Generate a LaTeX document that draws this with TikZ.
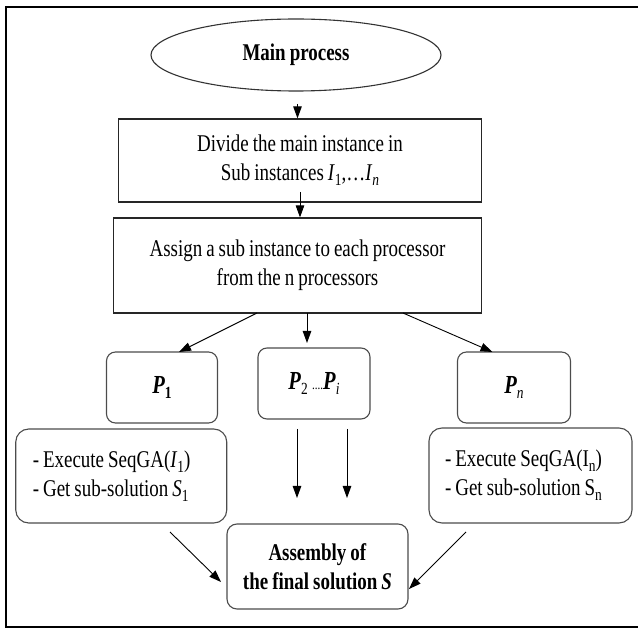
\documentclass[tikz,border=0pt]{standalone}
\usepackage{fontspec}
\setmainfont{Liberation Serif}[FakeStretch=0.79, WordSpace=0.85]
\usetikzlibrary{shapes.geometric,arrows.meta}

% lowered index in the style of an equation subscript
\newcommand{\lowidx}[1]{\raisebox{-0.22em}{\fontsize{17}{17}\selectfont #1}}

\tikzset{
  txt/.style={font=\fontsize{24}{29}\selectfont, align=center, inner sep=0pt},
  plainbox/.style={txt, draw=black!85, line width=1.2pt, rectangle},
  roundbox/.style={txt, draw=black!70, line width=1.1pt, rectangle, rounded corners=9pt},
  execbox/.style={roundbox, rounded corners=13pt, align=flush left, inner xsep=17pt},
  plabel/.style={font=\fontsize{26}{29}\selectfont},
  arr/.style={draw=black, line width=0.9pt, -{Triangle[length=12pt,width=8.5pt]}},
  frameline/.style={draw=black, line width=2pt}
}

\begin{document}
\begin{tikzpicture}[x=1pt,y=-1pt]
  \useasboundingbox (0,0) rectangle (638,628);

  % outer frame, open on the right
  \draw[frameline] (640,7) -- (5.5,7) -- (5.5,627) -- (640,627);

  % top of the flow
  \node[txt, ellipse, draw=black!80, line width=1.1pt,
        minimum width=290pt, minimum height=72pt] (main) at (296,55)
        {\textbf{Main process}};

  \node[plainbox, minimum width=363pt, minimum height=83pt] (divide) at (300,160.5)
        {Divide the main instance in\\
         Sub instances \textit{I}\lowidx{1},…\textit{I}\lowidx{\textit{n}}};

  \node[plainbox, minimum width=368pt, minimum height=95pt] (assign) at (297.5,265.5)
        {Assign a sub instance to each processor\\from the n processors};

  % processors
  \node[roundbox, plabel, minimum width=111pt, minimum height=71pt] (p1) at (162,387.5)
        {\textbf{\textit{P}}\lowidx{\textbf{1}}};
  \node[roundbox, plabel, minimum width=112pt, minimum height=71pt] (pi) at (314,383.5)
        {\textbf{\textit{P}}\lowidx{2}\,{\fontsize{14}{14}\selectfont ....}\textbf{\textit{P}}\lowidx{\textit{i}}};
  \node[roundbox, plabel, minimum width=113pt, minimum height=71pt] (pn) at (514,387.5)
        {\textbf{\textit{P}}\lowidx{\textit{n}}};

  % work done on each processor
  \node[execbox, text width=177pt, minimum height=94pt] (exec1) at (121.25,476)
        {- Execute SeqGA(\textit{I}\lowidx{1})\\- Get sub-solution \textit{S}\lowidx{1}};
  \node[execbox, inner xsep=16pt, text width=171pt, minimum height=95pt] (execn) at (530.5,475.5)
        {- Execute SeqGA(I\lowidx{n})\\- Get sub-solution S\lowidx{n}};

  % final step
  \node[roundbox, rounded corners=10pt, minimum width=181pt, minimum height=85pt] (asm) at (317.5,566.5)
        {\textbf{Assembly of}\\\textbf{the final solution \textit{S}}};

  % free ends of the connectors that do not touch a node
  \coordinate (mainout) at (297.5,104);
  \coordinate (divout) at (300,192);
  \coordinate (splitL) at (257,313);
  \coordinate (splitM) at (307,313);
  \coordinate (splitR) at (403,313);
  \coordinate (tipL) at (179,352);
  \coordinate (tipM) at (307,343);
  \coordinate (tipR) at (492.5,352);
  \coordinate (downAs) at (297,429);
  \coordinate (downAe) at (297,498);
  \coordinate (downBs) at (347,429);
  \coordinate (downBe) at (347,498);
  \coordinate (joinLs) at (170,532);
  \coordinate (joinLe) at (221,582);
  \coordinate (joinRs) at (466,532);
  \coordinate (joinRe) at (409,589);

  % connectors
  \draw[arr] (mainout) -- (mainout |- divide.north);
  \draw[arr] (divout) -- (divout |- assign.north);
  \draw[arr] (splitL) -- (tipL);
  \draw[arr] (splitM) -- (tipM);
  \draw[arr] (splitR) -- (tipR);
  \draw[arr] (downAs) -- (downAe);
  \draw[arr] (downBs) -- (downBe);
  \draw[arr] (joinLs) -- (joinLe);
  \draw[arr] (joinRs) -- (joinRe);
\end{tikzpicture}
\end{document}
